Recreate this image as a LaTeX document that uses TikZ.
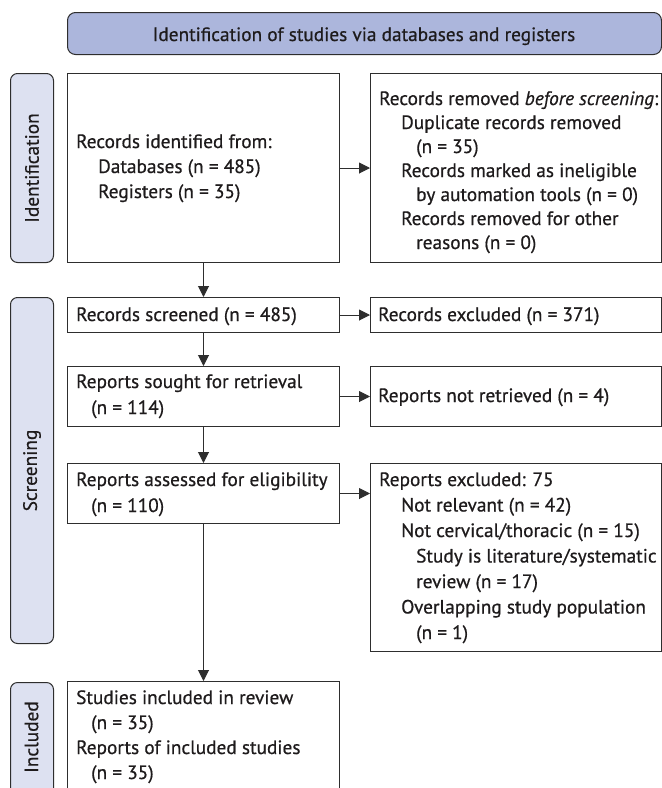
\documentclass[tikz,border=0pt]{standalone}
\usepackage{fontspec}
\setmainfont{PT Sans}[FakeBold=0.6]
\usetikzlibrary{arrows.meta,calc}
\definecolor{hdr}{HTML}{ACB6DC}
\definecolor{sidefill}{HTML}{DDE1F1}
\definecolor{edge}{HTML}{2E2E2E}
\definecolor{ink}{HTML}{1E1B1C}
\newcommand{\myindA}{\hspace*{22pt}}
\newcommand{\myindB}{\hspace*{37pt}}
\newcommand{\myindC}{\hspace*{15pt}}
\newcommand{\blk}[2]{\parbox[t]{280pt}{\fontsize{19.3}{#1}\selectfont\raggedright #2}}
\begin{document}
\begin{tikzpicture}[x=1pt,y=-1pt,
  box/.style={draw=edge, line width=1pt, fill=white, inner sep=0pt, anchor=north west},
  sidebox/.style={draw=edge, line width=1pt, fill=sidefill, rounded corners=7pt, inner sep=0pt, anchor=north west, minimum width=43pt},
  txt/.style={inner sep=0pt, anchor=base west, text=ink},
  sidelabel/.style={inner sep=0pt, rotate=90, text=ink, font=\fontsize{19.3}{25}\selectfont},
  arr/.style={draw=edge, line width=1pt, -{Triangle[length=11pt,width=11pt]}}]
\useasboundingbox (0,0) rectangle (662,788);
\clip (0,0) rectangle (662,788);

% header
\node[box, fill=hdr, rounded corners=8pt, minimum width=594pt, minimum height=42pt] (hdr) at (67,12) {};
\node[inner sep=0pt, anchor=base, text=ink, font=\fontsize{19.3}{25}\selectfont] (hdrtxt) at (364,41) {Identification of studies via databases and registers};

% side boxes
\node[sidebox, minimum height=189pt] (sideI) at (10,73) {};
\node[sidelabel] (sideItxt) at (sideI.center) {Identification};
\node[sidebox, minimum height=346pt] (sideS) at (10,297) {};
\node[sidelabel] (sideStxt) at (sideS.center) {Screening};
\node[sidebox, minimum height=150pt] (sideN) at (10,682) {};
\node[sidelabel] (sideNtxt) at (31.5,737) {Included};

% main boxes
\node[box, minimum width=272pt, minimum height=189pt] (ident) at (67,73) {};
\node[box, minimum width=291pt, minimum height=189pt] (removed) at (370,73) {};
\node[box, minimum width=272pt, minimum height=35pt] (screened) at (67,297) {};
\node[box, minimum width=291pt, minimum height=35pt] (excluded) at (370,297) {};
\node[box, minimum width=272pt, minimum height=60pt] (sought) at (67,366) {};
\node[box, minimum width=291pt, minimum height=60pt] (notret) at (370,366) {};
\node[box, minimum width=272pt, minimum height=60pt] (assessed) at (67,463) {};
\node[box, minimum width=291pt, minimum height=188pt] (excl2) at (370,463) {};
\node[box, minimum width=272pt, minimum height=150pt] (included) at (67,681) {};

% texts
\node[txt] (identtxt) at (76,148) {\blk{25}{Records identified from:\\
\myindA Databases (n = 485)\\
\myindA Registers (n = 35)}};
\node[txt] (removedtxt) at (379,105) {\blk{24}{Records removed \textit{before screening}:\\
\myindA Duplicate records removed\\
\myindB (n = 35)\\
\myindA Records marked as ineligible\\
\myindB by automation tools (n = 0)\\
\myindA Records removed for other\\
\myindB reasons (n = 0)}};
\node[txt] (screenedtxt) at (76,321) {\blk{25}{Records screened (n = 485)}};
\node[txt] (excludedtxt) at (378,321) {\blk{25}{Records excluded (n = 371)}};
\node[txt] (soughttxt) at (76,388) {\blk{26}{Reports sought for retrieval\\
\myindC (n = 114)}};
\node[txt] (notrettxt) at (378,402) {\blk{25}{Reports not retrieved (n = 4)}};
\node[txt] (assessedtxt) at (76,486) {\blk{26}{Reports assessed for eligibility\\
\myindC (n = 110)}};
\node[txt] (excl2txt) at (379,486) {\blk{25.5}{Reports excluded: 75\\
\myindA Not relevant (n = 42)\\
\myindA Not cervical/thoracic (n = 15)\\
\myindB Study is literature/systematic\\
\myindB review (n = 17)\\
\myindA Overlapping study population\\
\myindB (n = 1)}};
\node[txt] (includedtxt) at (76,704) {\blk{25}{Studies included in review\\
\myindC (n = 35)\\
Reports of included studies\\
\myindC (n = 35)}};

% connectors
\draw[arr] (ident.south) -- (screened.north);
\draw[arr] (screened.south) -- (sought.north);
\draw[arr] (sought.south) -- (assessed.north);
\draw[arr] (assessed.south) -- (included.north);
\draw[arr] (ident.east) -- (removed.west);
\draw[arr] (screened.east) -- (excluded.west);
\draw[arr] (sought.east) -- (notret.west);
\draw[arr] (assessed.east) -- (excl2.west |- assessed.east);
\end{tikzpicture}
\end{document}
